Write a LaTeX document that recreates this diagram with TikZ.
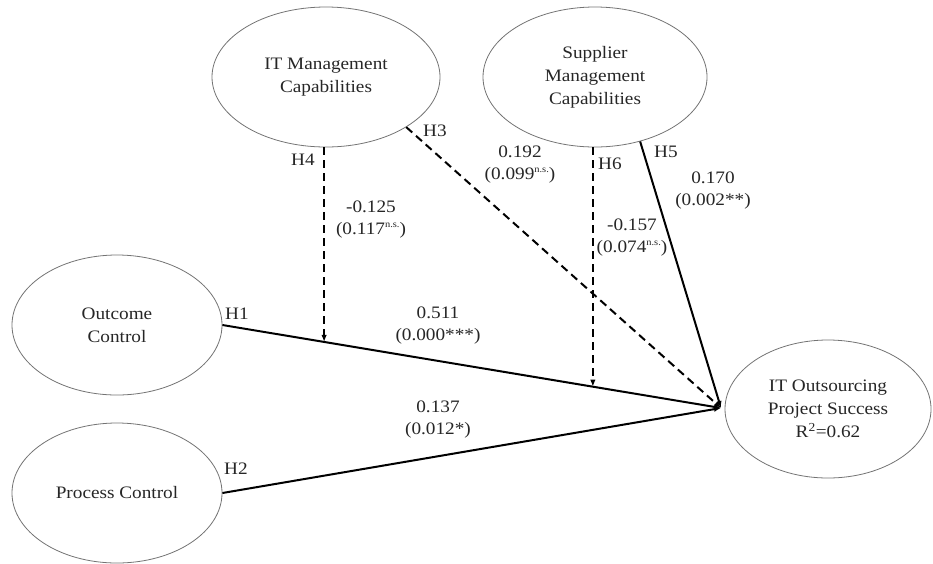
\documentclass[tikz,border=0pt]{standalone}
\usepackage{fontspec}
\setmainfont{Liberation Serif}[FakeStretch=1.1]
\usetikzlibrary{shapes.geometric,arrows.meta}
\newcommand{\nsup}{\raisebox{0.42em}{\fontsize{9.5}{9.5}\selectfont n.s.}}
\begin{document}
\begin{tikzpicture}[x=1pt,y=-1pt,
  latent/.style={ellipse,draw=black!55,line width=0.8pt,inner sep=0pt,align=center,font=\fontsize{17.5}{23}\selectfont,text=black!85},
  lab/.style={align=center,font=\fontsize{17.5}{22}\selectfont,text=black!85,inner sep=0pt},
  hyp/.style={font=\fontsize{17.5}{20}\selectfont,text=black!85,inner sep=0pt},
  solidpath/.style={line width=2pt,-{Latex[length=7pt,width=5.5pt]}},
  dashpath/.style={line width=2pt,dash pattern=on 8pt off 5pt,-{Latex[length=7pt,width=5.5pt]}}]
\useasboundingbox (0,0) rectangle (933,563);
\node[latent,minimum width=228pt,minimum height=140pt] (itm) at (326,77) {IT Management\\Capabilities};
\node[latent,minimum width=224pt,minimum height=140pt] (sup) at (595,77) {Supplier\\Management\\Capabilities};
\node[latent,minimum width=210pt,minimum height=140pt] (oc) at (117,325) {Outcome\\Control};
\node[latent,minimum width=210pt,minimum height=140pt] (pc) at (117,493) {Process Control};
\node[latent,minimum width=206pt,minimum height=138pt] (succ) at (828,409) {IT Outsourcing\\Project Success\\R\textsuperscript{2}=0.62};
\coordinate (tip) at (721,408);
\draw[solidpath] (oc.east) -- coordinate[pos=0.204] (m1) coordinate[pos=0.743] (m2) (tip);
\draw[solidpath] (pc.east) -- (tip);
\draw[dashpath] (itm.-32) -- (tip);
\draw[solidpath] (sup.-55) -- (tip);
\draw[dashpath] (m1 |- itm.south) -- (m1);
\draw[dashpath] (m2 |- sup.south) -- (m2);
\node[hyp] (h1) at (237,314) {H1};
\node[hyp] (h2) at (236,469) {H2};
\node[hyp] (h3) at (435,131) {H3};
\node[hyp] (h4) at (303,160) {H4};
\node[hyp] (h5) at (666,152) {H5};
\node[hyp] (h6) at (610,164) {H6};
\node[lab] (l1) at (438,326) {0.511\\(0.000***)};
\node[lab] (l2) at (438,420) {0.137\\(0.012*)};
\node[lab] (l3) at (520,165) {0.192\\(0.099\nsup)};
\node[lab] (l4) at (371,220) {-0.125\\(0.117\nsup)};
\node[lab] (l5) at (713,191) {0.170\\(0.002**)};
\node[lab] (l6) at (632,238) {-0.157\\(0.074\nsup)};
\end{tikzpicture}
\end{document}
